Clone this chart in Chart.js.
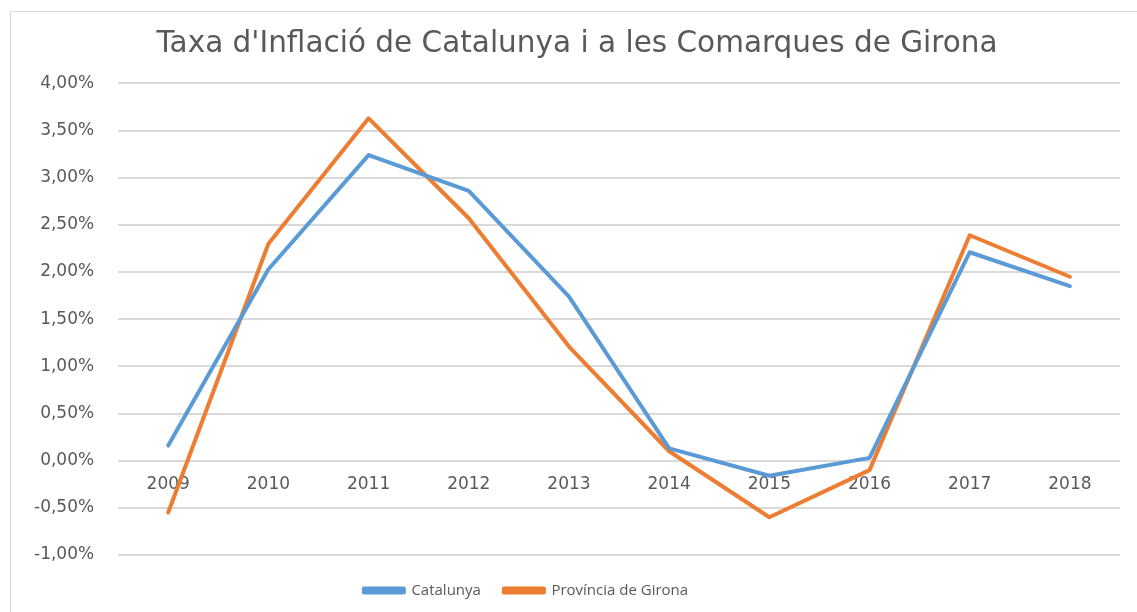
<!DOCTYPE html>
<html>
<head>
<meta charset="utf-8">
<script src="https://cdn.jsdelivr.net/npm/chart.js@4"></script>
<style>
  body { margin: 0; background: #fff; overflow: hidden; }
  #frame { position: absolute; left: 10px; top: 11px; width: 1200px; height: 700px; border: 1px solid #d9d9d9; }
  #myChart { position: absolute; left: 0; top: 0; }
</style>
</head>
<body>
<div id="frame"></div>
<canvas id="myChart" width="1137" height="612"></canvas>
<script>
// dades (en %)
const years = ['2009', '2010', '2011', '2012', '2013', '2014', '2015', '2016', '2017', '2018'];
const catalunya = [0.16, 2.03, 3.24, 2.86, 1.74, 0.13, -0.16, 0.03, 2.21, 1.85];
const girona = [-0.55, 2.30, 3.63, 2.57, 1.21, 0.10, -0.60, -0.10, 2.39, 1.95];
const seriesNames = ['Catalunya', 'Província de Girona'];
const yMin = -1, yMax = 4, yStep = 0.5;

const fontFam = "'DejaVu Sans', sans-serif";
const legendFam = "'Open Sans', sans-serif";
const textColor = '#595959';
const gridColor = '#d9d9d9';

function pct(v) {
    return v.toFixed(2).replace('.', ',') + '%';
}

// a l'original el títol i la llegenda no queden centrats: els desplaço una mica
const boxShift = {
    id: 'boxShift',
    afterLayout(chart) {
        const lg = chart.legend;
        lg.left -= 39; lg.right -= 39;
        lg.top += 5; lg.bottom += 5;
        const tb = chart.titleBlock;
        tb.left += 12; tb.right += 12;
    }
};

const ctx = document.getElementById('myChart').getContext('2d');
const myChartObj = new Chart(ctx, {
    type: 'line',
    data: {
        labels: years,
        datasets: [{
            label: seriesNames[0],
            data: catalunya,
            borderColor: '#5b9bd5',
            backgroundColor: '#5b9bd5',
            borderWidth: 4,
            pointRadius: 0,
            borderCapStyle: 'round',
            borderJoinStyle: 'round'
        }, {
            label: seriesNames[1],
            data: girona,
            borderColor: '#ed7d31',
            backgroundColor: '#ed7d31',
            borderWidth: 4,
            pointRadius: 0,
            borderCapStyle: 'round',
            borderJoinStyle: 'round'
        }]
    },
    options: {
        responsive: false,
        animation: false,
        layout: { padding: { left: 10, right: 17, top: 0, bottom: 9 } },
        plugins: {
            title: {
                display: true,
                text: "Taxa d'Inflació de Catalunya i a les Comarques de Girona",
                color: '#595959',
                font: { family: fontFam, size: 29.5, weight: 'normal' },
                padding: { top: 27, bottom: 21 }
            },
            legend: {
                position: 'bottom',
                labels: {
                    color: textColor,
                    font: { family: legendFam, size: 15 },
                    boxWidth: 40,
                    boxHeight: 4,
                    padding: 23
                }
            },
            tooltip: { enabled: false }
        },
        scales: {
            x: {
                position: { y: 0 },
                offset: true,
                grid: { display: false },
                border: { display: false },
                ticks: {
                    color: textColor,
                    font: { family: fontFam, size: 17 },
                    padding: 6,
                    maxRotation: 0
                }
            },
            y: {
                min: yMin,
                max: yMax,
                grid: { color: gridColor, lineWidth: 2, drawTicks: false },
                border: { display: false },
                ticks: {
                    stepSize: yStep,
                    color: textColor,
                    font: { family: fontFam, size: 17 },
                    padding: 24,
                    callback: v => pct(v)
                }
            }
        }
    },
    plugins: [boxShift]
});
</script>
</body>
</html>
